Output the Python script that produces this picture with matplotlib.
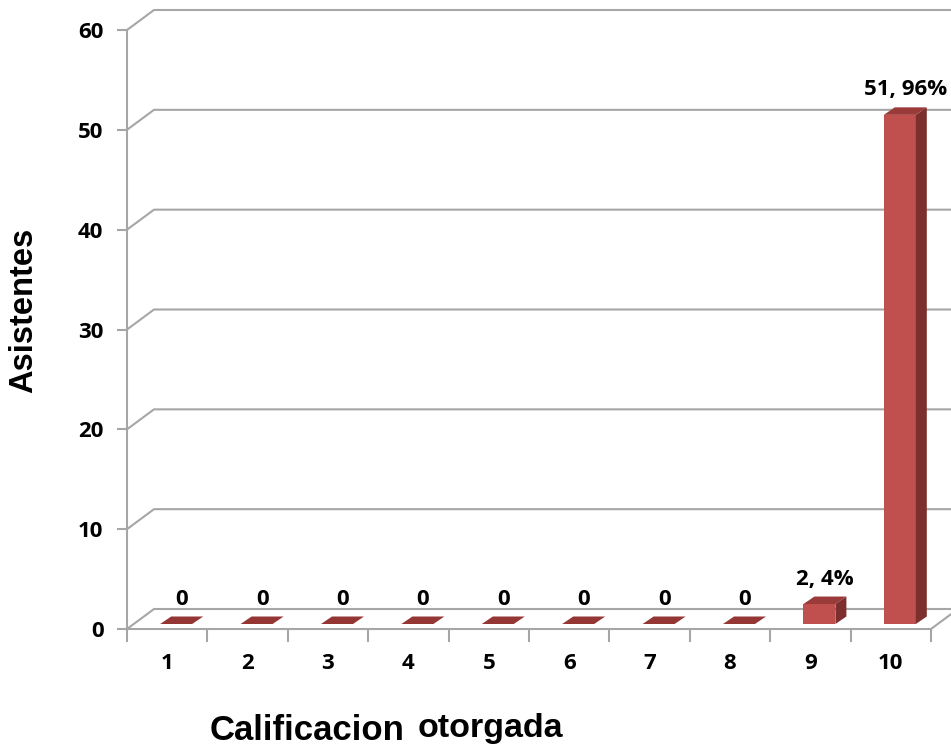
import matplotlib
matplotlib.use("Agg")
import matplotlib.pyplot as plt
from matplotlib.patches import Polygon
import numpy as np

# ---- data ----
categories = ["1", "2", "3", "4", "5", "6", "7", "8", "9", "10"]
asistentes = [0, 0, 0, 0, 0, 0, 0, 0, 2, 51]
porcentajes = [0, 0, 0, 0, 0, 0, 0, 0, 4, 96]
y_ticks = [0, 10, 20, 30, 40, 50, 60]

W, H = 951, 749
fig = plt.figure(figsize=(W / 100, H / 100), dpi=100)
fig.patch.set_facecolor("white")

# front plane in pixels
x0_px, x1_px, y0_px, y1_px = 127, 931, 629, 30
ax = fig.add_axes([x0_px / W, (H - y0_px) / H, (x1_px - x0_px) / W, (y0_px - y1_px) / H])
ax.set_xlim(0.5, len(categories) + 0.5)
ax.set_ylim(0, 60)
ax.set_facecolor("none")

pxx = (x1_px - x0_px) / len(categories)   # pixels per category
pxy = (y0_px - y1_px) / 60.0              # pixels per unit

# wall depth (pixels -> data)
wdx, wdy = 27 / pxx, 20 / pxy
# bar placement inside depth
bfx, bfy = 9 / pxx, 5.0 / pxy    # front face offset
bdx, bdy = 11 / pxx, 7.5 / pxy   # bar depth
bw = 32 / pxx                     # bar width

grid_c = "#A6A6A6"
lw = 1.5

# back wall gridlines with diagonal connectors
xl, xr = 0.5, len(categories) + 0.5
for v in y_ticks:
    ax.plot([xl, xl + wdx, xr + wdx], [v, v + wdy, v + wdy], color=grid_c, lw=lw,
            clip_on=False, solid_capstyle="butt", zorder=1)
# floor right edge
ax.plot([xr, xr + wdx], [0, wdy], color=grid_c, lw=lw, clip_on=False, zorder=1)

# spines
for s in ["top", "right"]:
    ax.spines[s].set_visible(False)
for s in ["left", "bottom"]:
    ax.spines[s].set_color(grid_c)
    ax.spines[s].set_linewidth(lw)

FAM = ["Open Sans", "DejaVu Sans"]

# ticks
ax.set_yticks(y_ticks)
ax.set_yticklabels([str(v) for v in y_ticks])
ax.tick_params(axis="y", length=7, width=lw, color=grid_c, pad=10)
xc = np.arange(1, len(categories) + 1)
ax.set_xticks(np.arange(0.5, len(categories) + 1, 1.0))
ax.set_xticklabels([])
ax.tick_params(axis="x", which="major", length=9, width=lw, color=grid_c, direction="out")
ax.set_xticks(xc, minor=True)
ax.set_xticklabels(categories, minor=True)
ax.tick_params(axis="x", which="minor", length=0, pad=17)

for lab in ax.get_yticklabels() + ax.get_xticklabels(minor=True):
    lab.set_fontfamily(FAM)
    lab.set_fontweight("bold")
    lab.set_fontsize(16)

front_c = "#C0504D"
side_c = "#7D2F2D"
top_c = "#9A3B39"
zero_c = "#943634"

xs = xc - bw / 2 + bfx
ax.bar(xs, asistentes, width=bw, bottom=bfy, align="edge", color=front_c,
       edgecolor="none", zorder=3, clip_on=False)
for xi, v, p in zip(xs, asistentes, porcentajes):
    top = bfy + v
    tc = top_c if v > 0 else zero_c
    ax.add_patch(Polygon([(xi, top), (xi + bw, top), (xi + bw + bdx, top + bdy), (xi + bdx, top + bdy)],
                         closed=True, facecolor=tc, edgecolor="none", zorder=3, clip_on=False))
    if v > 0:
        ax.add_patch(Polygon([(xi + bw, bfy), (xi + bw + bdx, bfy + bdy), (xi + bw + bdx, top + bdy), (xi + bw, top)],
                             closed=True, facecolor=side_c, edgecolor="none", zorder=3, clip_on=False))
    label = f"{v}, {p}%" if v > 0 else f"{v}"
    ax.annotate(label, (xi + bw / 2 + bdx / 2, top + bdy), xytext=(0, 5), textcoords="offset points",
                ha="center", va="bottom", fontfamily=FAM, fontweight="bold",
                fontsize=16, zorder=5, annotation_clip=False)

# axis titles
TF = ["Liberation Sans", "DejaVu Sans"]
fig.text(24 / W, 1 - 310 / H, "Asistentes", rotation=90, ha="center", va="center",
         fontfamily=TF, fontweight="bold", fontsize=23.5)
fig.text(210 / W, 1 - 731 / H, "Calificacion", ha="left", va="center",
         fontfamily=TF, fontweight="bold", fontsize=25)
fig.text(563 / W, 1 - 729 / H, "otorgada", ha="right", va="center",
         fontfamily=TF, fontweight="bold", fontsize=24.5)

fig.savefig("out.png", dpi=100, facecolor="white")
